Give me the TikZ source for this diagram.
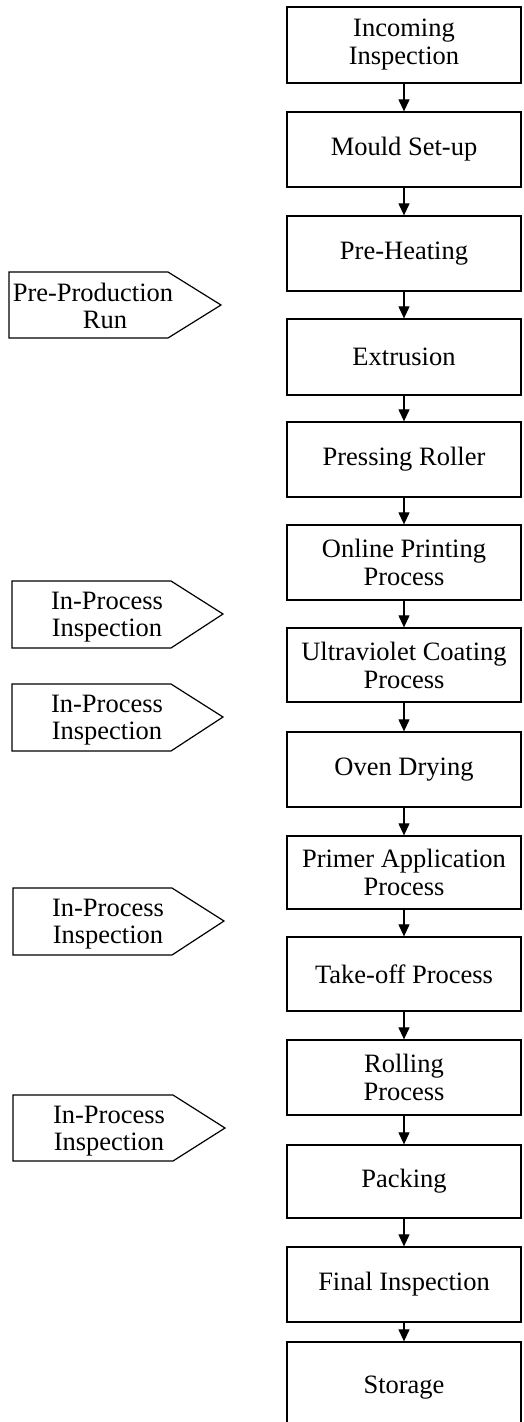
\documentclass[tikz,border=0pt]{standalone}
\usepackage{fontspec}
\setmainfont{Liberation Serif}
\usetikzlibrary{arrows.meta}
\begin{document}
\begin{tikzpicture}[x=1pt,y=-1pt,
  procbox/.style={draw,line width=1.3pt,minimum width=234pt,inner sep=0pt,align=center,
    font=\fontsize{26.5}{28}\selectfont},
  flowarr/.style={line width=1.2pt,-{Triangle[length=12pt,width=11pt]}},
  penta/.style={line width=1.2pt},
  pentatext/.style={align=center,inner sep=0pt,font=\fontsize{26.5}{27}\selectfont}]
\useasboundingbox (0,0) rectangle (523,1422);
\node[procbox,minimum height=76pt] (n1) at (404,45) {Incoming\\Inspection};
\node[procbox,minimum height=75pt] (n2) at (404,149.5) {Mould Set-up};
\node[procbox,minimum height=75pt] (n3) at (404,253.5) {Pre-Heating};
\node[procbox,minimum height=76pt] (n4) at (404,357) {Extrusion};
\node[procbox,minimum height=75pt] (n5) at (404,459.5) {Pressing Roller};
\node[procbox,minimum height=75pt] (n6) at (404,562.5) {Online Printing\\Process};
\node[procbox,minimum height=74pt] (n7) at (404,665) {Ultraviolet Coating\\Process};
\node[procbox,minimum height=75pt] (n8) at (404,769.5) {Oven Drying};
\node[procbox,minimum height=73pt] (n9) at (404,872.5) {Primer Application\\Process};
\node[procbox,minimum height=74pt] (n10) at (404,974) {Take-off Process};
\node[procbox,minimum height=75pt] (n11) at (404,1077.5) {Rolling\\Process};
\node[procbox,minimum height=73pt] (n12) at (404,1181.5) {Packing};
\node[procbox,minimum height=75pt] (n13) at (404,1284.5) {Final Inspection};
\node[procbox,minimum height=92pt] (n14) at (404,1388) {Storage};
\foreach \a/\b in {n1/n2,n2/n3,n3/n4,n4/n5,n5/n6,n6/n7,n7/n8,n8/n9,n9/n10,n10/n11,n11/n12,n12/n13,n13/n14}
  \draw[flowarr] (\a) -- (\b);
% pentagon markers
\draw[penta] (9,272) -- (168,272) -- (221,305) -- (168,338) -- (9,338) -- cycle;
\node[pentatext] (pp) at (93,306) {Pre-Production\\\hspace*{24pt}Run};
\draw[penta] (12,581) -- (171,581) -- (223,614) -- (171,648) -- (12,648) -- cycle;
\node[pentatext] (ip1) at (107,617) {In-Process\\Inspection};
\draw[penta] (12,684) -- (171,684) -- (223,717) -- (171,751) -- (12,751) -- cycle;
\node[pentatext] (ip2) at (107,720) {In-Process\\Inspection};
\draw[penta] (13,888) -- (172,888) -- (224,921) -- (172,955) -- (13,955) -- cycle;
\node[pentatext] (ip3) at (108,924) {In-Process\\Inspection};
\draw[penta] (13,1095) -- (173,1095) -- (225,1128) -- (173,1161) -- (13,1161) -- cycle;
\node[pentatext] (ip4) at (109,1131) {In-Process\\Inspection};
\end{tikzpicture}
\end{document}
